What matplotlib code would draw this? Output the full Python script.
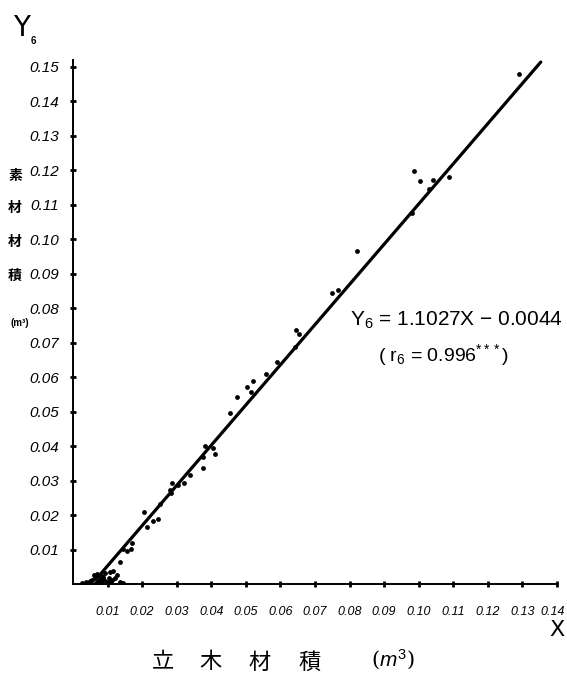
import numpy as np
import matplotlib
matplotlib.use("Agg")
import matplotlib.pyplot as plt
import matplotlib.transforms as mtransforms

plt.rcParams["font.family"] = ["Liberation Sans", "DejaVu Sans"]
plt.rcParams["mathtext.fontset"] = "custom"
plt.rcParams["mathtext.rm"] = "Liberation Sans"
plt.rcParams["mathtext.it"] = "Liberation Sans:italic"

# standing tree volume (m3) vs log volume (m3)
x_vals = [0.1289, 0.0986, 0.1003, 0.1040, 0.1029, 0.1087, 0.0980,
          0.0821, 0.0749, 0.0766, 0.0645, 0.0653, 0.0642,
          0.0590, 0.0558, 0.0520, 0.0503, 0.0514, 0.0474, 0.0454,
          0.0382, 0.0405, 0.0410, 0.0376, 0.0376,
          0.0338, 0.0321, 0.0286, 0.0303, 0.0280, 0.0283, 0.0251,
          0.0205, 0.0246, 0.0231, 0.0214, 0.0171, 0.0168, 0.0145,
          0.0156, 0.0136, 0.0127, 0.0116, 0.0107, 0.0092, 0.0087,
          0.0136, 0.0145, 0.0055, 0.0064, 0.0072, 0.0078, 0.0081,
          0.0090, 0.0098, 0.0104, 0.0113, 0.0066, 0.0043, 0.0026,
          0.0038, 0.0061, 0.0069, 0.0121, 0.0050, 0.0084, 0.0110]
y_vals = [0.1478, 0.1197, 0.1168, 0.1171, 0.1145, 0.1180, 0.1075,
          0.0965, 0.0843, 0.0852, 0.0736, 0.0725, 0.0687,
          0.0643, 0.0609, 0.0588, 0.0571, 0.0557, 0.0542, 0.0496,
          0.0400, 0.0394, 0.0377, 0.0368, 0.0336,
          0.0316, 0.0293, 0.0293, 0.0287, 0.0272, 0.0264, 0.0232,
          0.0209, 0.0188, 0.0183, 0.0165, 0.0119, 0.0101, 0.0101,
          0.0096, 0.0064, 0.0026, 0.0038, 0.0035, 0.0032, 0.0020,
          0.0006, 0.0003, 0.0012, 0.0017, 0.0009, 0.0014, 0.0006,
          0.0012, 0.0006, 0.0017, 0.0012, 0.0003, 0.0003, 0.0003,
          0.0006, 0.0026, 0.0029, 0.0017, 0.0008, 0.0024, 0.0008]

# regression line as drawn
line_x = [0.0072, 0.1353]
line_y = [0.0020, 0.1513]

x_ticks = [0.01, 0.02, 0.03, 0.04, 0.05, 0.06, 0.07,
           0.08, 0.09, 0.10, 0.11, 0.12, 0.13, 0.14]
x_labels = ["0.01", "0.02", "0.03", "0.04", "0.05", "0.06", "0.07",
            "0.08", "0.09", "0.10", "0.11", "0.12", "0.13", "0.14"]
y_ticks = [0.01, 0.02, 0.03, 0.04, 0.05, 0.06, 0.07, 0.08,
           0.09, 0.10, 0.11, 0.12, 0.13, 0.14, 0.15]
y_labels = ["0.01", "0.02", "0.03", "0.04", "0.05", "0.06", "0.07", "0.08",
            "0.09", "0.10", "0.11", "0.12", "0.13", "0.14", "0.15"]

W, H = 567, 677
fig = plt.figure(figsize=(W / 100, H / 100), dpi=100)
ax = fig.add_axes([73 / W, 1 - 584 / H, 484 / W, 524 / H])

ax.plot(line_x, line_y, color="black", lw=2.3, solid_capstyle="round")
ax.scatter(x_vals, y_vals, s=12, color="black", zorder=3, linewidths=0)

ax.set_xlim(0, 0.14)
ax.set_ylim(0, 0.1519)
for s in ["top", "right"]:
    ax.spines[s].set_visible(False)
for s in ["left", "bottom"]:
    ax.spines[s].set_linewidth(1.4)

ax.set_xticks(x_ticks)
ax.set_xticklabels(x_labels, fontstyle="italic", fontsize=9)
ax.set_yticks(y_ticks)
ax.set_yticklabels(y_labels, fontstyle="italic", fontsize=11)
ax.tick_params(axis="x", direction="inout", length=4, width=2, pad=14)
ax.tick_params(axis="y", direction="inout", length=4, width=2, pad=8)
# nudge the last x label a few pixels left so it stays on the canvas
last = ax.get_xticklabels()[-1]
last.set_transform(last.get_transform() +
                   mtransforms.ScaledTranslation(-4 / 100, 0, fig.dpi_scale_trans))

jp = ["Noto Sans CJK JP", "DejaVu Sans"]

# axis names
fig.text(13 / W, 1 - 28 / H, "Y", fontsize=20, family="DejaVu Sans", va="center")
fig.text(31 / W, 1 - 41 / H, "6", fontsize=7, fontweight="bold", va="center")
fig.text(557 / W, 1 - 630 / H, "X", fontsize=16, family="DejaVu Sans",
         ha="center", va="center")

for ch, yy in zip(["素", "材", "材", "積"], [176, 208, 242, 276]):
    fig.text(15 / W, 1 - yy / H, ch, fontsize=10, family=jp, fontweight="bold",
             ha="center", va="center")
fig.text(20 / W, 1 - 323 / H, "(m³)", fontsize=7, fontweight="bold",
         ha="center", va="center")

for ch, xx in zip(["立", "木", "材", "積"], [163, 210, 260, 310]):
    fig.text(xx / W, 1 - 662 / H, ch, fontsize=16, family=jp,
             ha="center", va="center")
fig.text(393 / W, 1 - 660 / H, "($m^3$)", fontsize=15, family="DejaVu Serif",
         ha="center", va="center")

# regression equation
fig.text(350 / W, 1 - 320 / H, r"Y$_6$ = 1.1027X − 0.0044", fontsize=15,
         va="center")
fig.text(378 / W, 1 - 355 / H, r"( r$_6$ = 0.996$^{***}$)", fontsize=14,
         va="center")

fig.savefig("out.png", dpi=100)
